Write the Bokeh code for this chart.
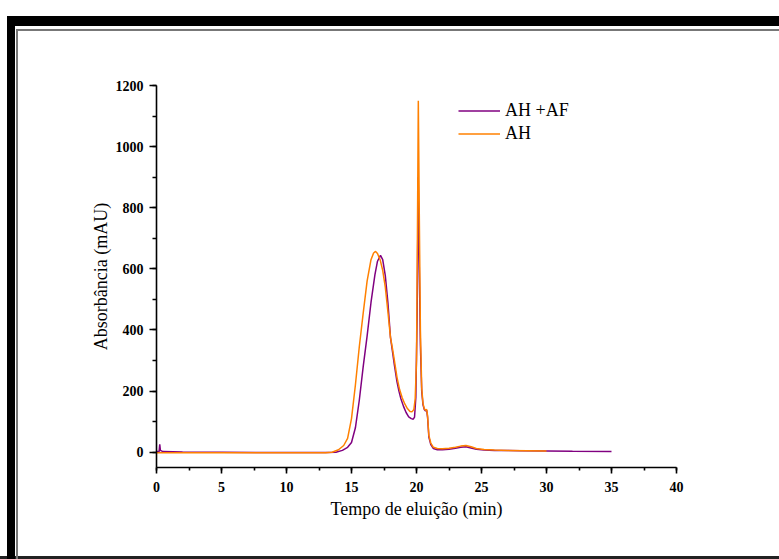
from bokeh.plotting import figure
from bokeh.models import Range1d, SingleIntervalTicker, Legend, LegendItem
from bokeh.embed import file_html
from bokeh.resources import INLINE

# ---- data ----
ah_af_time = [0, 0.2, 0.25, 0.3, 0.5, 2, 5, 8, 10, 12, 13.0, 13.8, 14.3, 14.7,
              15.0, 15.3, 15.6, 15.9, 16.2, 16.5, 16.8, 17.0, 17.23, 17.4, 17.6,
              17.8, 18.0, 18.15, 18.3, 18.5, 18.65, 18.8, 19.0, 19.2, 19.4, 19.6,
              19.75, 19.85, 19.95, 20.05, 20.13, 20.2, 20.3, 20.4, 20.5, 20.6,
              20.7, 20.78, 20.85, 20.95, 21.1, 21.3, 21.6, 22.0, 22.5, 23.0, 23.4,
              23.8, 24.2, 24.6, 25.2, 26, 28, 30, 32, 35]
ah_af_abs = [2, 2, 26, 6, 2, 1, 0, -1, -1, -1, -1, 0, 6, 16,
             32, 80, 170, 280, 380, 490, 580, 625, 644, 630, 578,
             490, 375, 330, 285, 230, 200, 175, 150, 130, 116, 110,
             108, 115, 180, 450, 900, 650, 350, 200, 155, 140,
             135, 138, 115, 50, 25, 12, 8, 8, 10, 13, 16,
             18, 14, 10, 7, 6, 5, 4, 3, 2]

ah_time = [0, 0.5, 2, 5, 8, 10, 12, 13.0, 13.5, 14.0, 14.4, 14.7, 15.0, 15.3,
           15.6, 15.9, 16.2, 16.5, 16.7, 16.85, 17.0, 17.2, 17.4, 17.6, 17.8,
           18.0, 18.15, 18.3, 18.5, 18.7, 18.9, 19.1, 19.3, 19.5, 19.65, 19.8,
           19.9, 20.0, 20.07, 20.14, 20.21, 20.3, 20.4, 20.5, 20.6, 20.7, 20.78,
           20.85, 20.95, 21.1, 21.3, 21.6, 22.0, 22.5, 23.0, 23.4, 23.8, 24.2,
           24.6, 25.2, 26, 27, 28.5, 30]
ah_abs = [-2, -2, -2, -2, -2, -2, -2, -2, 0, 8, 22, 45, 110, 220,
          345, 455, 560, 630, 652, 657, 650, 630, 595, 540, 460,
          375, 340, 300, 245, 205, 178, 158, 143, 133, 132, 140,
          175, 300, 700, 1150, 800, 400, 210, 160, 142, 137, 140,
          120, 55, 30, 16, 12, 11, 13, 16, 20, 22, 18,
          12, 9, 7, 6, 5, 4]

series_labels = ["AH +AF", "AH"]
series_colors = ["#800080", "#FF8000"]
x_ticks_interval = 5
y_ticks_interval = 200

W, H = 779, 559
frame_css = ", ".join([
    "linear-gradient(#000,#000) 7px 16px / 8px 100% no-repeat",
    "linear-gradient(#000,#000) 7px 16px / 100% 10px no-repeat",
    "linear-gradient(#777,#777) 16px 29px / 2px 100% no-repeat",
    "linear-gradient(#777,#777) 16px 29px / 100% 2px no-repeat",
    "linear-gradient(#222,#222) 0px 556px / 100% 3px no-repeat",
    "#ffffff",
])

p = figure(width=W, height=H, output_backend="svg", toolbar_location=None,
           x_range=Range1d(0, 40), y_range=Range1d(-50, 1200),
           min_border_left=156, min_border_right=W - 676,
           min_border_top=85, min_border_bottom=H - 467,
           styles={"background": frame_css})
p.outline_line_color = None
p.xgrid.visible = False
p.ygrid.visible = False
p.background_fill_color = None
p.border_fill_color = None

r1 = p.line(ah_af_time, ah_af_abs, line_color=series_colors[0], line_width=1.5)
r2 = p.line(ah_time, ah_abs, line_color=series_colors[1], line_width=1.5)

FONT = "Liberation Serif"
for ax in (p.xaxis[0], p.yaxis[0]):
    ax.axis_line_width = 1.6
    ax.axis_line_color = "black"
    ax.major_tick_line_width = 1.6
    ax.minor_tick_line_width = 1.6
    ax.major_tick_line_color = "black"
    ax.minor_tick_line_color = "black"
    ax.major_tick_in = 0
    ax.minor_tick_in = 0
    ax.major_label_text_font = FONT
    ax.major_label_text_font_style = "bold"
    ax.major_label_text_font_size = "14px"
    ax.major_label_text_color = "black"
    ax.axis_label_text_font = FONT
    ax.axis_label_text_font_style = "normal"
    ax.axis_label_text_font_size = "18px"
    ax.axis_label_text_color = "black"

p.xaxis[0].ticker = SingleIntervalTicker(interval=x_ticks_interval, num_minor_ticks=2)
p.yaxis[0].ticker = SingleIntervalTicker(interval=y_ticks_interval, num_minor_ticks=2)
p.xaxis[0].major_tick_out = 6
p.xaxis[0].minor_tick_out = 3
p.yaxis[0].major_tick_out = 7
p.yaxis[0].minor_tick_out = 4
p.xaxis[0].major_label_standoff = 8
p.yaxis[0].major_label_standoff = 6
p.xaxis[0].axis_label = "Tempo de eluição (min)"
p.yaxis[0].axis_label = "Absorbância (mAU)"
p.xaxis[0].axis_label_standoff = 4
p.yaxis[0].axis_label_standoff = 2

legend = Legend(items=[LegendItem(label=series_labels[0], renderers=[r1]),
                       LegendItem(label=series_labels[1], renderers=[r2])],
                location=(302, 322), orientation="vertical")
legend.background_fill_alpha = 0
legend.border_line_color = None
legend.padding = 0
legend.margin = 0
legend.spacing = 0
legend.glyph_width = 42
legend.glyph_height = 23
legend.label_height = 23
legend.label_standoff = 5
legend.label_text_font = FONT
legend.label_text_font_size = "18px"
legend.label_text_color = "black"
p.add_layout(legend)

open("out.html", "w").write(file_html(p, INLINE))
